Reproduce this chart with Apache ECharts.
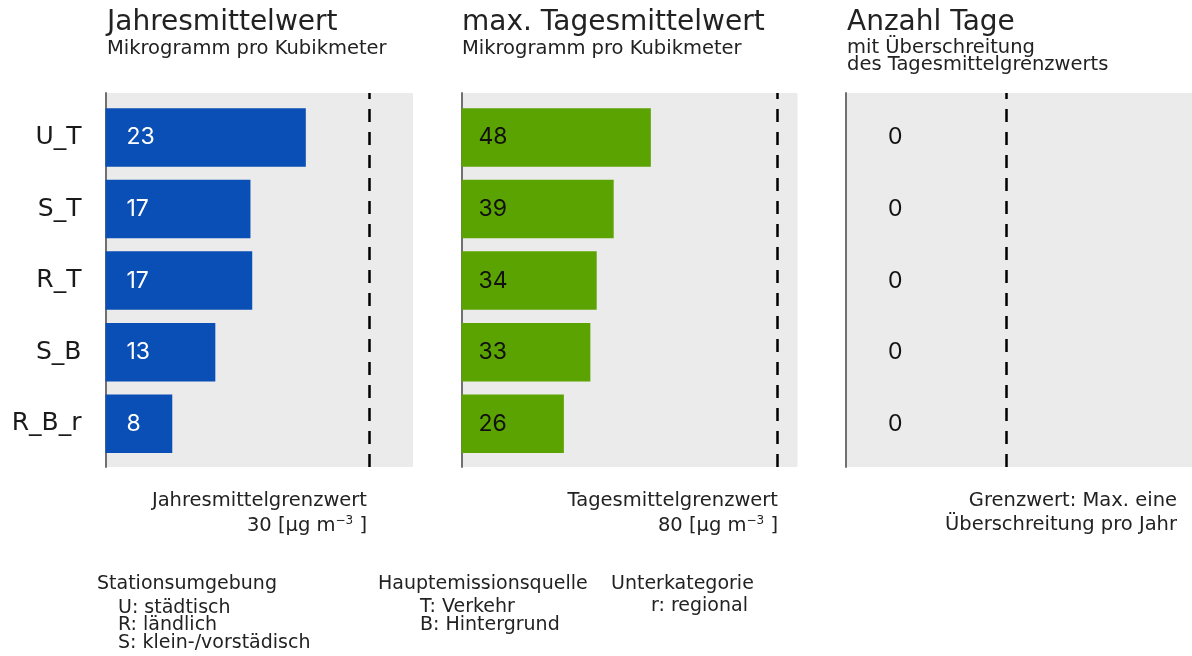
<!DOCTYPE html>
<html>
<head>
<meta charset="utf-8">
<script src="https://cdn.jsdelivr.net/npm/echarts@6/dist/echarts.min.js"></script>
<style>
  html, body { margin: 0; padding: 0; background: #fff; }
  #chart { width: 1192px; height: 656px; }
</style>
</head>
<body>
<div id="chart"></div>
<script>
// station types (top to bottom)
const categories = ['U_T', 'S_T', 'R_T', 'S_B', 'R_B_r'];
// annual mean, µg/m³
const annualMean = [22.8, 16.5, 16.7, 12.5, 7.6];
// max daily mean, µg/m³
const maxDailyMean = [47.9, 38.5, 34.2, 32.6, 25.9];
// days above the daily limit
const exceedDays = [0, 0, 0, 0, 0];
// limit values per panel
const limits = [30, 80, 1];

const chart = echarts.init(document.getElementById('chart'), null, { renderer: 'canvas' });

const FONT = 'DejaVu Sans';
const NUM_FONT = 'Inter';

const panels = [
  { left: 105.5, width: 307.5, max: 35, data: annualMean, color: '#0a4fb5', labelColor: '#ffffff', labelX: 21 },
  { left: 461.5, width: 336, max: 85, data: maxDailyMean, color: '#5ba300', labelColor: '#111111', labelX: 17 },
  { left: 846, width: 346, max: 2.16, data: exceedDays, color: '#5ba300', labelColor: '#111111', labelX: 42 }
];

var grid = [], xAxis = [], yAxis = [], series = [];

panels.forEach(function (p, i) {
  var a = 2 * i, b = 2 * i + 1;
  // background grid (gray area, axis line, limit line)
  grid.push({ left: p.left, top: 93, width: p.width, height: 374, show: true, backgroundColor: '#ebebeb', borderWidth: 0 });
  // bars grid (slightly inset vertically)
  grid.push({ left: p.left, top: 101.7, width: p.width, height: 357.8 });

  xAxis.push({ gridIndex: a, type: 'value', min: 0, max: p.max, show: false });
  xAxis.push({ gridIndex: b, type: 'value', min: 0, max: p.max, show: false });

  yAxis.push({
    gridIndex: a, type: 'value', min: 0, max: 1,
    axisLine: { show: true, lineStyle: { color: '#707070', width: 2 } },
    axisTick: { show: false }, axisLabel: { show: false }, splitLine: { show: false }
  });
  yAxis.push({
    gridIndex: b, type: 'category', inverse: true, data: categories,
    axisLine: { show: false }, axisTick: { show: false },
    axisLabel: { show: i === 0, margin: 24, fontSize: 25, color: '#1a1a1a', fontFamily: FONT }
  });

  series.push({
    type: 'line', xAxisIndex: a, yAxisIndex: a, data: [], silent: true,
    markLine: {
      symbol: 'none', silent: true, animation: false,
      label: { show: false },
      lineStyle: { color: '#000', type: [13, 10], width: 2.5 },
      data: [{ xAxis: limits[i] }]
    }
  });

  series.push({
    type: 'bar', xAxisIndex: b, yAxisIndex: b, data: p.data, barWidth: 58.5,
    itemStyle: { color: p.color },
    label: {
      show: true, position: [p.labelX, '50%'], align: 'left', verticalAlign: 'middle',
      fontSize: 23, color: p.labelColor, fontFamily: NUM_FONT,
      formatter: function (d) { return Math.round(d.value); }
    }
  });
});

function txt(x, y, text, size, opts) {
  opts = opts || {};
  return {
    type: 'text', x: x, y: y, silent: true,
    style: Object.assign({
      text: text, fontSize: size, fontFamily: FONT,
      fill: opts.color || '#222', align: opts.align || 'left', verticalAlign: 'middle'
    }, opts.style || {})
  };
}

const unitStyle = {
  lineHeight: 22,
  rich: {
    sup: { fontSize: 12, fontFamily: FONT, fill: '#222', verticalAlign: 'top', lineHeight: 22 }
  }
};

var graphic = [
  txt(107, 22.5, 'Jahresmittelwert', 28),
  txt(107, 48.5, 'Mikrogramm pro Kubikmeter', 19.5),
  txt(462, 22.5, 'max. Tagesmittelwert', 28),
  txt(462, 48.5, 'Mikrogramm pro Kubikmeter', 19.5),
  txt(847, 22.5, 'Anzahl Tage', 28),
  txt(847, 47.5, 'mit Überschreitung', 19.5),
  txt(847, 64.5, 'des Tagesmittelgrenzwerts', 19.5),

  txt(367, 500.5, 'Jahresmittelgrenzwert', 19.5, { align: 'right' }),
  txt(367, 526, '30 [µg m{sup|−3} ]', 19.5, { align: 'right', style: unitStyle }),
  txt(778, 500.5, 'Tagesmittelgrenzwert', 19.5, { align: 'right' }),
  txt(778, 526, '80 [µg m{sup|−3} ]', 19.5, { align: 'right', style: unitStyle }),
  txt(1177, 500.5, 'Grenzwert: Max. eine', 19.5, { align: 'right' }),
  txt(1177, 524.5, 'Überschreitung pro Jahr', 19.5, { align: 'right' }),

  txt(97, 584, 'Stationsumgebung', 19),
  txt(118, 608, 'U: städtisch', 19),
  txt(118, 625.5, 'R: ländlich', 19),
  txt(118, 643, 'S: klein-/vorstädisch', 19),
  txt(378, 584, 'Hauptemissionsquelle', 19),
  txt(420, 607.5, 'T: Verkehr', 19),
  txt(420, 625, 'B: Hintergrund', 19),
  txt(611, 584, 'Unterkategorie', 19),
  txt(651, 606, 'r: regional', 19)
];

chart.setOption({
  animation: false,
  backgroundColor: '#ffffff',
  grid: grid,
  xAxis: xAxis,
  yAxis: yAxis,
  series: series,
  graphic: graphic
});
</script>
</body>
</html>
